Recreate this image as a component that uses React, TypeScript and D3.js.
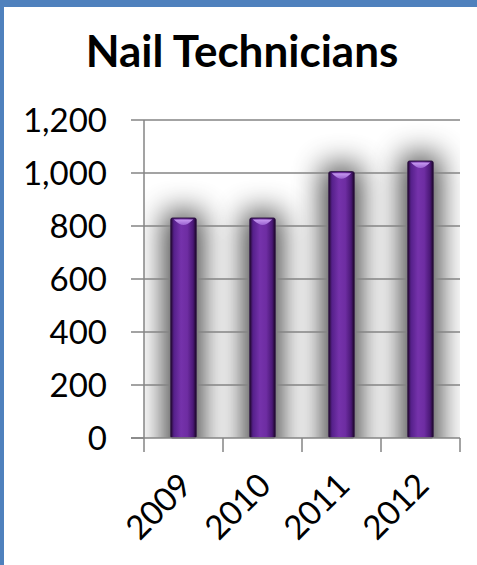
import React from "react";
import * as d3 from "d3";

const years = ["2009", "2010", "2011", "2012"];
const technicians = [830, 830, 1005, 1045];
const yTicks = [0, 200, 400, 600, 800, 1000, 1200];
const chartTitle = "Nail Technicians";

const W = 477;
const H = 565;
const FONT = "Lato, 'Open Sans', sans-serif";

const App: React.FC = () => {
  const plot = { left: 144, right: 460, top: 120, bottom: 438 };

  const x = d3
    .scaleBand<string>()
    .domain(years)
    .range([plot.left, plot.right])
    .paddingInner(0.68)
    .paddingOuter(0.34);

  const y = d3
    .scaleLinear()
    .domain([0, 1200])
    .range([plot.bottom, plot.top]);

  const fmt = d3.format(",");
  const bw = x.bandwidth();
  const bounds = d3
    .range(years.length + 1)
    .map((i) => plot.left + i * ((plot.right - plot.left) / years.length));

  return (
    <svg
      width={W}
      height={H}
      style={{ position: "fixed", left: 0, top: 0, background: "#fff" }}
    >
      <defs>
        <linearGradient id="barFill" x1="0" x2="1" y1="0" y2="0">
          <stop offset="0%" stopColor="#22082f" />
          <stop offset="12%" stopColor="#55208a" />
          <stop offset="40%" stopColor="#7532ab" />
          <stop offset="65%" stopColor="#6e2da2" />
          <stop offset="88%" stopColor="#4a1876" />
          <stop offset="100%" stopColor="#1c0628" />
        </linearGradient>
        <linearGradient id="bevel" x1="0" x2="0" y1="0" y2="1">
          <stop offset="0%" stopColor="#c79af0" />
          <stop offset="100%" stopColor="#9a62d0" />
        </linearGradient>
        <filter id="glow" x="-250%" y="-30%" width="600%" height="160%">
          <feGaussianBlur stdDeviation="15" />
        </filter>
        <clipPath id="plotClip">
          <rect
            x={plot.left}
            y={plot.top}
            width={plot.right - plot.left}
            height={plot.bottom - plot.top}
          />
        </clipPath>
      </defs>

      {/* frame */}
      <rect x={0} y={0} width={W} height={7} fill="#4f81bd" />
      <rect x={0} y={0} width={4} height={H} fill="#4f81bd" />

      <text
        x={242}
        y={67}
        textAnchor="middle"
        fontFamily={FONT}
        fontWeight="bold"
        fontSize={44}
        fill="#000"
      >
        {chartTitle}
      </text>

      {/* glow behind bars */}
      <g clipPath="url(#plotClip)">
        {years.map((yr, i) => (
          <rect
            key={yr}
            x={(x(yr) ?? 0) - 6}
            y={y(technicians[i]) - 6}
            width={bw + 12}
            height={plot.bottom - y(technicians[i]) + 50}
            fill="#000"
            opacity={0.78}
            filter="url(#glow)"
          />
        ))}
      </g>

      {/* gridlines */}
      {yTicks.slice(1).map((t) => (
        <line
          key={t}
          x1={plot.left}
          x2={plot.right}
          y1={y(t)}
          y2={y(t)}
          stroke="#858585"
          strokeWidth={1.5}
        />
      ))}

      {/* bars */}
      {years.map((yr, i) => {
        const bx = x(yr) ?? 0;
        const by = y(technicians[i]);
        const cx = bx + bw / 2;
        return (
          <g key={yr}>
            <rect
              x={bx}
              y={by}
              width={bw}
              height={plot.bottom - by}
              fill="url(#barFill)"
              stroke="#2a0f3f"
              strokeWidth={1}
              rx={1.5}
            />
            <path
              d={`M${bx + 3},${by + 1.5} L${bx + bw - 3},${by + 1.5} Q${cx + 4},${by + 7} ${cx},${by + 7} Q${cx - 4},${by + 7} ${bx + 3},${by + 1.5} Z`}
              fill="url(#bevel)"
            />
          </g>
        );
      })}

      {/* axes */}
      <line x1={plot.left} x2={plot.left} y1={plot.top} y2={plot.bottom} stroke="#858585" strokeWidth={1.5} />
      <line x1={131} x2={plot.right} y1={plot.bottom} y2={plot.bottom} stroke="#858585" strokeWidth={1.5} />
      {yTicks.map((t) => (
        <g key={t}>
          <line x1={131} x2={plot.left} y1={y(t)} y2={y(t)} stroke="#858585" strokeWidth={1.5} />
          <text
            x={107}
            y={y(t)}
            dy="0.36em"
            textAnchor="end"
            fontFamily={FONT}
            fontSize={33}
            fill="#000"
          >
            {fmt(t)}
          </text>
        </g>
      ))}
      {bounds.map((bx, i) => (
        <line key={i} x1={bx} x2={bx} y1={plot.bottom} y2={452} stroke="#858585" strokeWidth={1.5} />
      ))}
      {years.map((yr) => {
        const cx = (x(yr) ?? 0) + bw / 2;
        return (
          <text
            key={yr}
            transform={`translate(${cx + 2},479) rotate(-45)`}
            dy="0.36em"
            textAnchor="end"
            fontFamily={FONT}
            fontSize={33}
            fill="#000"
          >
            {yr}
          </text>
        );
      })}
    </svg>
  );
};

export default App;
